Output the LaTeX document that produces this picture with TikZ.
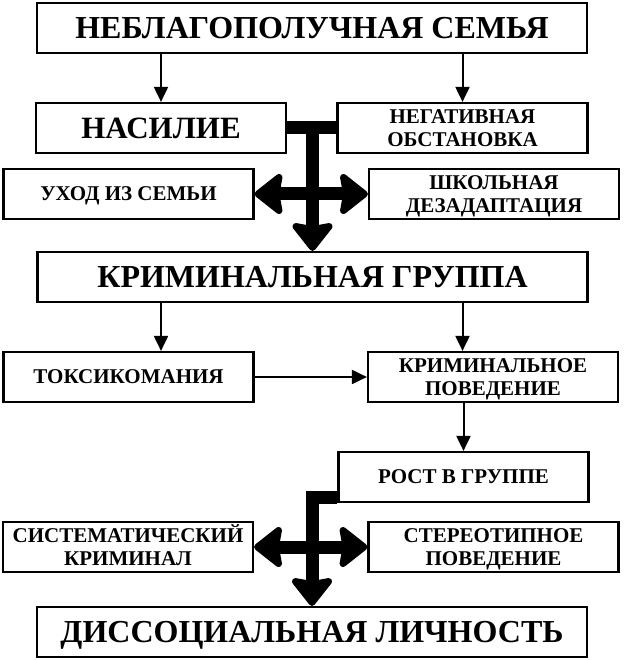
\documentclass[tikz,border=0pt]{standalone}
\usepackage{fontspec}
\setmainfont{Liberation Serif}
\usetikzlibrary{arrows.meta,calc}
\begin{document}
\begin{tikzpicture}[x=1pt,y=-1pt,
  bx/.style={draw, line width=2.2pt, minimum width=250pt, minimum height=50pt, inner sep=0pt, align=center,
    font=\bfseries\fontsize{21}{22.5}\selectfont, text height=13.9pt, text depth=0pt},
  twol/.style={text height=36.4pt, text depth=0pt},
  bigbx/.style={bx, minimum width=550pt, font=\bfseries\fontsize{32}{34}\selectfont, text height=21.2pt},
  arr/.style={line width=2pt, -{Triangle[length=15pt,width=14pt]}},
  fatline/.style={line width=13pt, line join=miter},
  bigtip/.tip={Stealth[length=31pt,width=48pt,inset=4pt,round]}
]
\useasboundingbox (0,0) rectangle (623,660);
\node[bigbx] (fam) at (312,28) {НЕБЛАГОПОЛУЧНАЯ СЕМЬЯ};
\node[bx, font=\bfseries\fontsize{31}{32}\selectfont, text height=20.5pt] (nas) at (161,128) {НАСИЛИЕ};
\node[bx, twol] (neg) at (462.5,128) {НЕГАТИВНАЯ\\ОБСТАНОВКА};
\node[bx] (uhod) at (128.5,194) {УХОД ИЗ СЕМЬИ};
\node[bx, twol] (shk) at (494,194) {ШКОЛЬНАЯ\\ДЕЗАДАПТАЦИЯ};
\node[bigbx] (krim) at (312.5,277) {КРИМИНАЛЬНАЯ ГРУППА};
\node[bx] (tox) at (128.5,377) {ТОКСИКОМАНИЯ};
\node[bx, twol] (kpov) at (493,377) {КРИМИНАЛЬНОЕ\\ПОВЕДЕНИЕ};
\node[bx] (rost) at (463.5,477) {РОСТ В ГРУППЕ};
\node[bx, twol] (sist) at (128,547) {СИСТЕМАТИЧЕСКИЙ\\КРИМИНАЛ};
\node[bx, twol] (ster) at (493.5,547) {СТЕРЕОТИПНОЕ\\ПОВЕДЕНИЕ};
\node[bigbx] (dis) at (312,632) {ДИССОЦИАЛЬНАЯ ЛИЧНОСТЬ};

\draw[arr] (fam.south -| nas.north) -- (nas.north);
\draw[arr] (fam.south -| neg.north) -- (neg.north);
\draw[arr] (krim.south -| nas.north) -- (tox.north -| nas.north);
\draw[arr] (krim.south -| neg.north) -- (kpov.north -| neg.north);
\draw[arr] (tox.east) -- (kpov.west);
\draw[arr] (kpov.south -| rost.north) -- (rost.north);

\draw[fatline] (nas.east) -- (neg.west);
\draw[fatline,-bigtip] (krim.north |- nas.east) -- (krim.north);
\draw[fatline,bigtip-bigtip] (uhod.east) -- (shk.west);

\draw[fatline,-bigtip] ([yshift=6pt]rost.south west) -| (dis.north);
\draw[fatline,bigtip-bigtip] (sist.east) -- (ster.west);
\end{tikzpicture}
\end{document}
